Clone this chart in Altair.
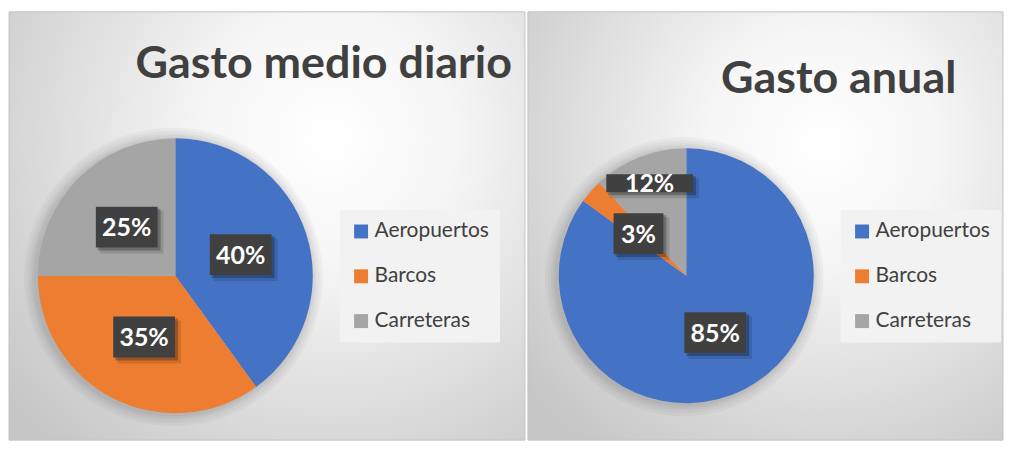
import altair as alt
import pandas as pd

categories = ["Aeropuertos", "Barcos", "Carreteras"]
diario = [40, 35, 25]
anual = [85, 3, 12]
titles = ["Gasto medio diario", "Gasto anual"]
colors = ["#4472C4", "#ED7D31", "#A5A5A5"]

FONT = "Lato"
TXT = "#404040"
H = 430


def gradient():
    return alt.RadialGradient(
        gradient="radial",
        x1=0.62, y1=0.33, x2=0.62, y2=0.33,
        r1=0, r2=0.8,
        stops=[
            alt.GradientStop(offset=0, color="#ffffff"),
            alt.GradientStop(offset=0.3, color="#f6f6f6"),
            alt.GradientStop(offset=1, color="#c6c6c6"),
        ],
    )


def panel(values, title, w, cx, cy, r, lr, tx, ty, lx, ly, special_cat=None, special_r=0):
    df = pd.DataFrame({"cat": categories, "value": values, "ord": list(range(len(categories)))})
    base = alt.Chart(df)
    theta = alt.Theta("value:Q", stack=True)
    order = alt.Order("ord:Q")
    color = alt.Color(
        "cat:N",
        scale=alt.Scale(domain=categories, range=colors),
        legend=alt.Legend(
            title=None, orient="none", legendX=lx, legendY=ly, direction="vertical",
            symbolType="square", symbolSize=196, symbolStrokeWidth=0,
            labelFont=FONT, labelFontSize=21, labelColor=TXT, labelOffset=3,
            rowPadding=23, padding=11, fillColor="#f2f2f2",
        ),
    )

    ttl_df = pd.DataFrame({"t": [title]})
    bg = alt.Chart(ttl_df).mark_rect(fill=gradient(), stroke="#c4c4c4", strokeWidth=1).encode(
        x=alt.value(0), x2=alt.value(w), y=alt.value(0), y2=alt.value(H)
    )

    shadows = [
        base.mark_arc(radius=r + k, fill="#000000", opacity=0.03).encode(
            theta=theta, order=order, x=alt.value(cx - 2), y=alt.value(cy + 1)
        )
        for k in (12, 9, 6, 4, 2)
    ]
    pie = base.mark_arc(radius=r).encode(
        theta=theta, order=order, color=color, x=alt.value(cx), y=alt.value(cy)
    )

    sp = f"datum.cat == '{special_cat}'"
    lab = base.transform_window(
        cum="sum(value)", sort=[alt.SortField("ord")], frame=[None, 0]
    ).transform_joinaggregate(total="sum(value)").transform_calculate(
        label="datum.value + '%'",
        mid="(datum.cum - datum.value / 2) / datum.total * 2 * PI",
        rr=f"{sp} ? {special_r} : {lr}",
        bw=f"{sp} ? 87 : (length(datum.value + '') > 1 ? 62 : 50)",
        bh=f"{sp} ? 18 : 41",
    ).transform_calculate(
        lx=f"{cx} + datum.rr * sin(datum.mid)",
        ly=f"{cy} - datum.rr * cos(datum.mid)",
    ).transform_calculate(
        bx1="datum.lx - datum.bw / 2",
        bx2="datum.lx + datum.bw / 2",
        by1="datum.ly - datum.bh / 2",
        by2="datum.ly + datum.bh / 2",
    )
    box_enc = dict(
        x=alt.X("bx1:Q", scale=None, axis=None),
        x2=alt.X2("bx2:Q"),
        y=alt.Y("by1:Q", scale=None, axis=None),
        y2=alt.Y2("by2:Q"),
    )
    box_shadow2 = lab.mark_rect(
        fill="#000000", opacity=0.12, xOffset=4, x2Offset=6, yOffset=4, y2Offset=6
    ).encode(**box_enc)
    box_shadow = lab.mark_rect(
        fill="#000000", opacity=0.25, xOffset=2, x2Offset=3, yOffset=2, y2Offset=3
    ).encode(**box_enc)
    box = lab.mark_rect(fill="#404040").encode(**box_enc)
    text = lab.mark_text(
        font=FONT, fontSize=25, fontWeight="bold", color="#ffffff",
        align="center", baseline="middle", dy=1,
    ).encode(
        x=alt.X("lx:Q", scale=None, axis=None),
        y=alt.Y("ly:Q", scale=None, axis=None),
        text="label:N",
    )

    ttl = alt.Chart(ttl_df).mark_text(
        font=FONT, fontSize=45, fontWeight="bold", color=TXT,
        align="center", baseline="alphabetic",
    ).encode(text="t:N", x=alt.value(tx), y=alt.value(ty))

    return alt.layer(bg, *shadows, pie, box_shadow2, box_shadow, box, text, ttl).properties(
        width=w, height=H,
    )


left = panel(diario, titles[0], 518, 167, 265, 138, 69, 316, 66, 332, 199)
right = panel(anual, titles[1], 477, 159, 265, 128, 64, 312, 81, 314, 199,
              special_cat="Carreteras", special_r=100)

chart = alt.hconcat(left, right, spacing=1).resolve_scale(
    color="independent"
).resolve_legend(color="independent").properties(
    padding={"left": 0, "top": 2, "right": 0, "bottom": 0},
    background="#ffffff",
).configure_view(stroke=None)

chart.save("out.html", embed_options={"renderer": "svg", "actions": False})
